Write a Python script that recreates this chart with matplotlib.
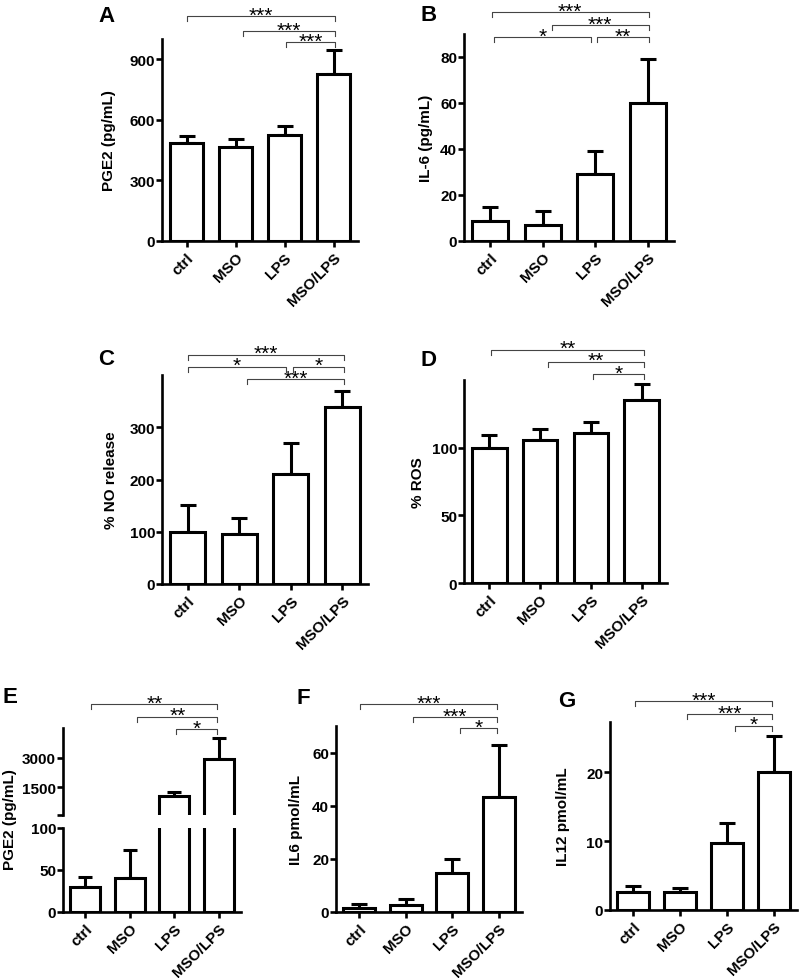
import numpy as np
import matplotlib.pyplot as plt
from matplotlib import transforms

plt.rcParams['font.family'] = ['Liberation Sans', 'DejaVu Sans']
plt.rcParams['font.weight'] = 'bold'

groups = ['ctrl', 'MSO', 'LPS', 'MSO/LPS']

# values (mean, upper SEM)
pge2_a = [485, 466, 524, 826]
pge2_a_err = [34, 37, 45, 120]
il6_b = [8.8, 7.1, 29.3, 60.1]
il6_b_err = [6.1, 5.9, 9.7, 19.0]
no_c = [100, 95.7, 210, 338]
no_c_err = [51, 31, 60, 32]
ros_d = [100, 106, 111, 135]
ros_d_err = [9.6, 8, 8, 11.7]
pge2_e = [29.2, 40.3, 1050, 2935]
pge2_e_err = [13, 34, 190, 1050]
il6_f = [1.6, 2.7, 14.6, 43.4]
il6_f_err = [1.4, 2.2, 5.3, 19.3]
il12_g = [2.6, 2.6, 9.8, 20.0]
il12_g_err = [0.85, 0.6, 2.8, 5.3]

# significance brackets: (x start, x end, label, height in axes fraction)
sig_a = [(0, 3.03, '***', 1.112), (1.15, 3.03, '***', 1.040), (2.03, 3.03, '***', 0.984)]
sig_b = [(0.03, 3.02, '***', 1.105), (1.17, 3.02, '***', 1.043),
         (0.07, 1.92, '*', 0.984), (2.04, 3.02, '**', 0.984)]
sig_c = [(0, 3.03, '***', 1.097), (0, 1.90, '*', 1.040),
         (2.04, 3.03, '*', 1.040), (1.15, 3.03, '***', 0.981)]
sig_d = [(0.03, 3.05, '**', 1.149), (1.15, 3.05, '**', 1.090), (2.04, 3.05, '*', 1.030)]
sig_e = [(0.14, 2.97, '**', 1.276), (1.17, 2.97, '**', 1.130), (2.04, 2.97, '*', 0.989)]
sig_f = [(0.02, 2.96, '***', 1.118), (1.16, 2.96, '***', 1.047), (2.17, 2.96, '*', 0.988)]
sig_g = [(0.03, 2.97, '***', 1.110), (1.15, 2.97, '***', 1.043), (2.17, 2.97, '*', 0.980)]

W, H = 800, 979
fig = plt.figure(figsize=(W / 100, H / 100), dpi=100)

LW = 2.2
FS = 11


def px_axes(x0, y0, x1, y1):
    return fig.add_axes([x0 / W, 1 - y1 / H, (x1 - x0) / W, (y1 - y0) / H])


def style(ax, xaxis=True):
    ax.spines['top'].set_visible(False)
    ax.spines['right'].set_visible(False)
    ax.spines['left'].set_linewidth(1.9)
    ax.spines['bottom'].set_linewidth(1.9)
    ax.tick_params(axis='y', width=1.9, length=4, pad=1, labelsize=FS)
    ax.tick_params(axis='x', width=1.9, length=4.5, pad=2, labelsize=FS)
    ax.set_xlim(-0.5, 3.5)
    x = np.arange(len(groups))
    ax.set_xticks(x)
    if xaxis:
        ax.set_xticklabels(groups, rotation=45, ha='right', rotation_mode='anchor',
                           fontweight='bold')
    else:
        ax.spines['bottom'].set_visible(False)
        ax.tick_params(axis='x', bottom=False, labelbottom=False)
    for lab in ax.get_yticklabels():
        lab.set_fontweight('bold')


def bars(ax, vals, errs, cap=6, floor=None):
    vals = np.asarray(vals, dtype=float)
    errs = np.asarray(errs, dtype=float)
    if floor is not None:
        # only the bars that reach into the upper segment of a broken axis
        keep = vals > floor
        vals = np.where(keep, vals, np.nan)
        errs = np.where(keep, errs, np.nan)
    x = np.arange(len(vals))
    ax.bar(x, vals, width=0.68, color='white', edgecolor='black', linewidth=LW, zorder=3)
    ax.errorbar(x, vals, yerr=[np.zeros(len(vals)), errs], fmt='none', ecolor='black',
                elinewidth=LW, capsize=cap, capthick=LW, zorder=2)


def brackets(ax, sig):
    trans = transforms.blended_transform_factory(ax.transData, ax.transAxes)
    tick = 5 / ax.bbox.height
    star_t = transforms.offset_copy(trans, fig=fig, x=0, y=-4.5, units='dots')
    for x1, x2, lab, yl in sig:
        ax.plot([x1, x1, x2, x2], [yl - tick, yl, yl, yl - tick], color='#444444',
                lw=0.8, transform=trans, clip_on=False, zorder=5)
        ax.text((x1 + x2) / 2, yl, lab, transform=star_t, ha='center', va='baseline',
                fontsize=15, fontweight='normal', clip_on=False)


def letter(s, x, y):
    fig.text(x / W, 1 - y / H, s, fontsize=16, fontweight='bold', va='baseline', ha='left')


# A
ax = px_axes(162, 40, 358, 242)
bars(ax, pge2_a, pge2_a_err)
ax.set_ylim(0, 1000)
ax.set_yticks([0, 300, 600, 900])
style(ax)
ax.set_ylabel('PGE2 (pg/mL)', fontsize=FS, fontweight='bold')
ax.yaxis.set_label_coords(-0.235, 0.5)
brackets(ax, sig_a)
letter('A', 98, 22)

# B
ax = px_axes(464, 35, 674, 242)
bars(ax, il6_b, il6_b_err)
ax.set_ylim(0, 90)
ax.set_yticks([0, 20, 40, 60, 80])
style(ax)
ax.set_ylabel('IL-6 (pg/mL)', fontsize=FS, fontweight='bold')
ax.yaxis.set_label_coords(-0.148, 0.5)
brackets(ax, sig_b)
letter('B', 421, 21)

# C
ax = px_axes(162, 376, 368, 585)
bars(ax, no_c, no_c_err)
ax.set_ylim(0, 400)
ax.set_yticks([0, 100, 200, 300])
style(ax)
ax.set_ylabel('% NO release', fontsize=FS, fontweight='bold')
ax.yaxis.set_label_coords(-0.214, 0.5)
brackets(ax, sig_c)
letter('C', 98, 365)

# D
ax = px_axes(464, 381, 667, 584)
bars(ax, ros_d, ros_d_err)
ax.set_ylim(0, 150)
ax.set_yticks([0, 50, 100])
style(ax)
ax.set_ylabel('% ROS', fontsize=FS, fontweight='bold')
ax.yaxis.set_label_coords(-0.192, 0.5)
brackets(ax, sig_d)
letter('D', 421, 366)

# E (broken axis)
ax_up = px_axes(63, 729, 241, 816)
bars(ax_up, pge2_e, pge2_e_err, cap=5, floor=100)
ax_up.set_ylim(100, 4500)
ax_up.set_yticks([100, 1500, 3000])
ax_up.set_yticklabels(['', '1500', '3000'])
style(ax_up, xaxis=False)
brackets(ax_up, sig_e)

ax = px_axes(63, 829, 241, 913)
bars(ax, pge2_e, pge2_e_err, cap=5)
ax.set_ylim(0, 100)
ax.set_yticks([0, 50, 100])
style(ax)
fig.text(10 / W, 1 - 820 / H, 'PGE2 (pg/mL)', rotation=90, ha='center', va='center',
         fontsize=FS, fontweight='bold')
letter('E', 3, 703)

# F
ax = px_axes(336, 727, 522, 913)
bars(ax, il6_f, il6_f_err)
ax.set_ylim(0, 70)
ax.set_yticks([0, 20, 40, 60])
style(ax)
ax.set_ylabel('IL6 pmol/mL', fontsize=FS, fontweight='bold')
ax.yaxis.set_label_coords(-0.177, 0.5)
brackets(ax, sig_f)
letter('F', 296, 704)

# G
ax = px_axes(610, 723, 797, 911)
bars(ax, il12_g, il12_g_err)
ax.set_ylim(0, 27.3)
ax.set_yticks([0, 10, 20])
style(ax)
ax.set_ylabel('IL12 pmol/mL', fontsize=FS, fontweight='bold')
ax.yaxis.set_label_coords(-0.214, 0.5)
brackets(ax, sig_g)
letter('G', 558, 707)

fig.savefig('out.png', dpi=100)
